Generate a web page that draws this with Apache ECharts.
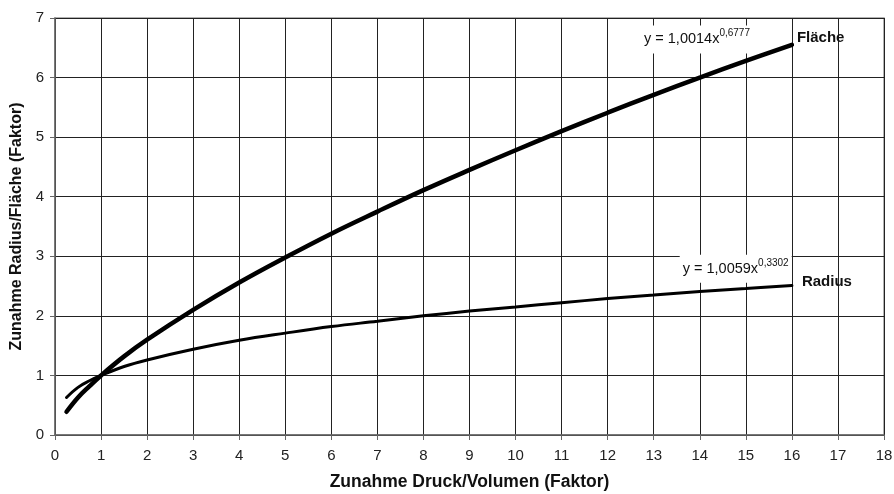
<!DOCTYPE html>
<html>
<head>
<meta charset="utf-8">
<script src="https://cdn.jsdelivr.net/npm/echarts@6/dist/echarts.min.js"></script>
<style>
  html, body { margin: 0; padding: 0; background: #fff; }
  #chart { width: 894px; height: 494px; }
</style>
</head>
<body>
<div id="chart"></div>
<script>
// Pressure/volume increase factor (x)
const druckFaktor = [0.25, 0.5, 0.75, 1, 1.5, 2, 3, 4, 5, 6, 7, 8, 9, 10, 11, 12, 13, 14, 15, 16];
// Area increase factor
const flaeche = [0.39, 0.63, 0.82, 1.00, 1.32, 1.60, 2.10, 2.56, 2.98, 3.38, 3.75, 4.11, 4.45, 4.78, 5.10, 5.41, 5.71, 6.00, 6.28, 6.55];
// Radius increase factor
const radius = [0.63, 0.80, 0.91, 1.00, 1.15, 1.26, 1.44, 1.59, 1.71, 1.82, 1.91, 2.00, 2.08, 2.15, 2.22, 2.29, 2.35, 2.41, 2.46, 2.51];

// Trendline equations
const eqFlaeche = { base: 'y = 1,0014x', exp: '0,6777', at: [13.94, 6.64] };
const eqRadius = { base: 'y = 1,0059x', exp: '0,3302', at: [14.78, 2.79] };

const FONT = '"Liberation Sans", Arial, sans-serif';

function pairs(xs, ys) { return xs.map((x, i) => [x, ys[i]]); }

const eqRich = {
  a: { fontFamily: FONT, fontSize: 14.5, color: '#111', lineHeight: 22 },
  s: { fontFamily: FONT, fontSize: 10, color: '#111', lineHeight: 10, verticalAlign: 'top' }
};

function equationPoint(eq) {
  return {
    coord: eq.at,
    symbolSize: 0,
    label: {
      show: true,
      position: 'inside',
      formatter: '{a|' + eq.base + '}{s|' + eq.exp + '}',
      rich: eqRich,
      backgroundColor: '#fff',
      padding: [3, 3, 3, 3]
    }
  };
}

function namePoint(xs, ys, name, offset) {
  const i = xs.length - 1;
  return {
    coord: [xs[i], ys[i]],
    symbolSize: 0,
    label: {
      show: true,
      position: 'right',
      distance: 0,
      offset: offset,
      formatter: name,
      fontFamily: FONT,
      fontSize: 15,
      fontWeight: 'bold',
      color: '#111'
    }
  };
}

const chart = echarts.init(document.getElementById('chart'), null, { renderer: 'canvas' });

chart.setOption({
  animation: false,
  backgroundColor: '#fff',
  grid: {
    left: 55, right: 10, top: 18, bottom: 59,
    outerBoundsMode: 'none',
    containLabel: false,
    show: true, borderColor: '#999', borderWidth: 1.5
  },
  xAxis: {
    type: 'value',
    min: 0, max: 18, interval: 1,
    name: 'Zunahme Druck/Volumen (Faktor)',
    nameLocation: 'middle',
    nameGap: 38,
    nameTextStyle: { fontFamily: FONT, fontSize: 17.5, fontWeight: 'bold', color: '#111' },
    axisLine: { show: true, lineStyle: { color: '#666', width: 1.5 } },
    axisTick: { show: true, length: 5, lineStyle: { color: '#666' } },
    axisLabel: { fontFamily: FONT, fontSize: 15, color: '#222', margin: 13 },
    splitLine: { show: true, lineStyle: { color: '#222', width: 1 } }
  },
  yAxis: {
    type: 'value',
    min: 0, max: 7, interval: 1,
    name: 'Zunahme Radius/Fläche (Faktor)',
    nameLocation: 'middle',
    nameGap: 28,
    nameTextStyle: { fontFamily: FONT, fontSize: 16, fontWeight: 'bold', color: '#111' },
    axisLine: { show: true, lineStyle: { color: '#666', width: 1.5 } },
    axisTick: { show: true, length: 5, lineStyle: { color: '#666' } },
    axisLabel: { fontFamily: FONT, fontSize: 15, color: '#222', margin: 11 },
    splitLine: { show: true, lineStyle: { color: '#222', width: 1 } }
  },
  series: [
    {
      name: 'Fläche',
      type: 'line',
      data: pairs(druckFaktor, flaeche),
      smooth: 0.4,
      showSymbol: false,
      lineStyle: { color: '#000', width: 4.5, cap: 'round' },
      z: 3,
      markPoint: {
        silent: true,
        data: [namePoint(druckFaktor, flaeche, 'Fläche', [5, -7]), equationPoint(eqFlaeche)]
      }
    },
    {
      name: 'Radius',
      type: 'line',
      data: pairs(druckFaktor, radius),
      smooth: 0.4,
      showSymbol: false,
      lineStyle: { color: '#000', width: 3, cap: 'round' },
      z: 3,
      markPoint: {
        silent: true,
        data: [namePoint(druckFaktor, radius, 'Radius', [10, -4]), equationPoint(eqRadius)]
      }
    }
  ]
});
</script>
</body>
</html>
